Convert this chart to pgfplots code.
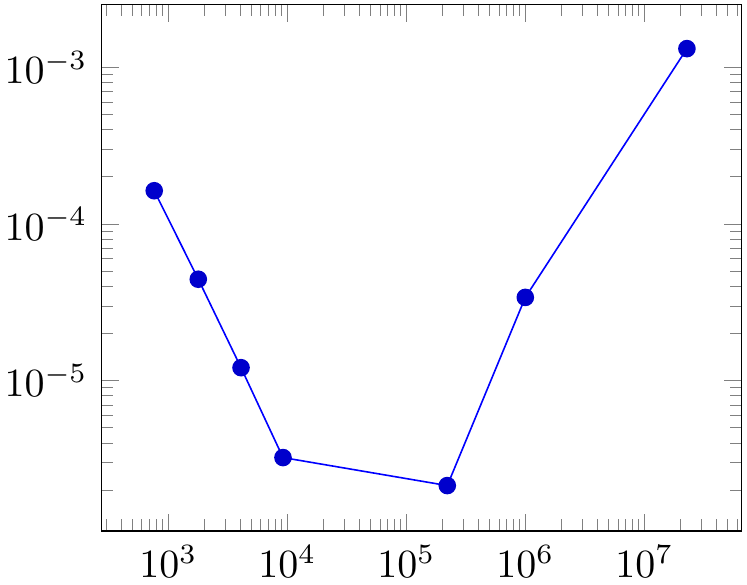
\documentclass[border=0pt]{standalone}
\usepackage{pgfplots}
\pgfplotsset{compat=1.18}
\begin{document}
\begin{tikzpicture}
\begin{loglogaxis}[
  scale only axis,
  width=160pt, height=131.6pt,
  xmin=275, xmax=6.53e7,
  ymin=1.10e-6, ymax=2.51e-3,
]
\addplot[blue, mark=*, mark options={fill=blue!80!black, draw=blue!80!black}] coordinates {
  (762, 1.63e-4)
  (1787, 4.44e-5)
  (4086, 1.21e-5)
  (9200, 3.23e-6)
  (2.21e5, 2.14e-6)
  (1.0e6, 3.40e-5)
  (2.28e7, 1.316e-3)
};
\end{loglogaxis}
\pgfresetboundingbox
\path ([xshift=-25.4pt, yshift=-13.5pt]current axis.south west) rectangle ([xshift=1.43pt, yshift=1.17pt]current axis.north east);
\end{tikzpicture}
\end{document}
